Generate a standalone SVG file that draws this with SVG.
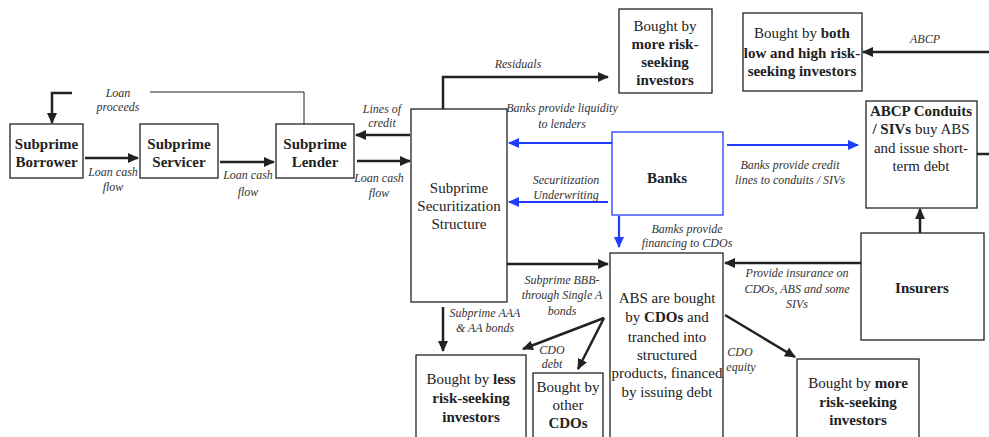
<svg xmlns="http://www.w3.org/2000/svg" width="989" height="437" viewBox="0 0 989 437">
<style>
.box{fill:#fff;stroke:#222;stroke-width:1.3}
.bbox{fill:#fff;stroke:#1f3cff;stroke-width:1.3}
.t{font-family:"Liberation Serif","Times New Roman",serif;font-size:15px;fill:#222;text-anchor:middle}
.b{font-weight:bold}
.l{font-family:"Liberation Serif","Times New Roman",serif;font-size:12px;font-style:italic;fill:#333;text-anchor:middle}
.k{fill:none;stroke:#222;stroke-width:2.5}
.thin{fill:none;stroke:#222;stroke-width:1}
.bl{fill:none;stroke:#1f3cff;stroke-width:2.2}
</style>
<defs>
<marker id="ak" markerUnits="userSpaceOnUse" markerWidth="11" markerHeight="10" refX="10" refY="5" orient="auto"><path d="M0,0 L11,5 L0,10 z" fill="#222"/></marker>
<marker id="ab" markerUnits="userSpaceOnUse" markerWidth="11" markerHeight="10" refX="10" refY="5" orient="auto"><path d="M0,0 L11,5 L0,10 z" fill="#1f3cff"/></marker>
</defs>
<rect width="989" height="437" fill="#fff"/>
<g id="connectors">
<path class="thin" d="M304,124 L304,92 L150,92"/>
<path class="k" d="M72,93 L52,93 L52,123" marker-end="url(#ak)"/>
<path class="k" d="M85,158 L138,158" marker-end="url(#ak)"/>
<path class="k" d="M220,162 L274,162" marker-end="url(#ak)"/>
<path class="k" d="M357,161 L410,161" marker-end="url(#ak)"/>
<path class="k" d="M410,135 L356,135" marker-end="url(#ak)"/>
<path class="k" d="M443,109 L443,77 L608,77" marker-end="url(#ak)"/>
<path class="bl" d="M612,143 L509,143" marker-end="url(#ab)"/>
<path class="bl" d="M608,202 L509,202" marker-end="url(#ab)"/>
<path class="bl" d="M727,145 L858,145" marker-end="url(#ab)"/>
<path class="bl" d="M619,216 L619,247" marker-end="url(#ab)"/>
<path class="k" d="M989,52 L863,52" marker-end="url(#ak)"/>
<path class="k" d="M977,154 L989,154"/>
<path class="k" d="M920,233 L920,209" marker-end="url(#ak)"/>
<path class="k" d="M861,263 L725,263" marker-end="url(#ak)"/>
<path class="k" d="M507,264 L608,264" marker-end="url(#ak)"/>
<path class="k" d="M443,307 L443,351" marker-end="url(#ak)"/>
<path class="k" d="M604,318 L523,349" marker-end="url(#ak)"/>
<path class="k" d="M604,318 L578,369" marker-end="url(#ak)"/>
<path class="k" d="M725,315 L795,357" marker-end="url(#ak)"/>
<text class="l" x="118" y="97">Loan</text>
<text class="l" x="118" y="111">proceeds</text>
<text class="l" x="382" y="113">Lines of</text>
<text class="l" x="382" y="127">credit</text>
<text class="l" x="113" y="176">Loan cash</text>
<text class="l" x="113" y="191">flow</text>
<text class="l" x="248" y="179">Loan cash</text>
<text class="l" x="248" y="196">flow</text>
<text class="l" x="379" y="182">Loan cash</text>
<text class="l" x="379" y="197">flow</text>
<text class="l" x="518" y="68">Residuals</text>
<text class="l" x="562" y="112">Banks provide liquidity</text>
<text class="l" x="562" y="128">to lenders</text>
<text class="l" x="566" y="184">Securitization</text>
<text class="l" x="566" y="199">Underwriting</text>
<text class="l" x="790" y="169">Banks provide credit</text>
<text class="l" x="790" y="184">lines to conduits / SIVs</text>
<text class="l" x="687" y="233">Bamks provide</text>
<text class="l" x="687" y="247">financing to CDOs</text>
<text class="l" x="925" y="43">ABCP</text>
<text class="l" x="797" y="277">Provide  insurance on</text>
<text class="l" x="797" y="293">CDOs, ABS and some</text>
<text class="l" x="797" y="308">SIVs</text>
<text class="l" x="562" y="284">Subprime BBB-</text>
<text class="l" x="562" y="299">through Single A</text>
<text class="l" x="562" y="315">bonds</text>
<text class="l" x="485" y="317">Subprime AAA</text>
<text class="l" x="485" y="332">&amp; AA bonds</text>
<text class="l" x="552" y="354">CDO</text>
<text class="l" x="552" y="368">debt</text>
<text class="l" x="740" y="356">CDO</text>
<text class="l" x="741" y="371">equity</text>
</g>
<g id="borrower">
<rect class="box" x="10" y="124" width="73" height="54"/>
<text class="t b" x="46.5" y="149">Subprime</text>
<text class="t b" x="46.5" y="167">Borrower</text>
</g>
<g id="servicer">
<rect class="box" x="140" y="124" width="78" height="54"/>
<text class="t b" x="179" y="149">Subprime</text>
<text class="t b" x="179" y="167">Servicer</text>
</g>
<g id="lender">
<rect class="box" x="276" y="124" width="78" height="54"/>
<text class="t b" x="315" y="149">Subprime</text>
<text class="t b" x="315" y="167">Lender</text>
</g>
<g id="securitization">
<rect class="box" x="411" y="109" width="96" height="193"/>
<text class="t" x="459" y="193">Subprime</text>
<text class="t" x="459" y="211">Securitization</text>
<text class="t" x="459" y="229">Structure</text>
</g>
<g id="residual-buyers">
<rect class="box" x="619" y="9" width="93" height="84"/>
<text class="t" x="665" y="31">Bought by</text>
<text class="t b" x="665" y="49">more risk-</text>
<text class="t b" x="665" y="67">seeking</text>
<text class="t b" x="665" y="85">investors</text>
</g>
<g id="abcp-buyers">
<rect class="box" x="743" y="13" width="119" height="78"/>
<text class="t" x="802" y="38">Bought by <tspan class="b">both</tspan></text>
<text class="t b" x="802" y="58">low and high risk-</text>
<text class="t b" x="802" y="76">seeking investors</text>
</g>
<g id="banks">
<rect class="bbox" x="612" y="132" width="111" height="83"/>
<text class="t b" x="667" y="183">Banks</text>
</g>
<g id="abcp-conduits">
<rect class="box" x="866" y="101" width="111" height="107"/>
<text class="t b" x="921" y="116">ABCP Conduits</text>
<text class="t" x="921" y="134"><tspan class="b">/ SIVs</tspan> buy ABS</text>
<text class="t" x="921" y="153">and issue short-</text>
<text class="t" x="921" y="171">term debt</text>
</g>
<g id="insurers">
<rect class="box" x="861" y="233" width="123" height="107"/>
<text class="t b" x="922" y="293">Insurers</text>
</g>
<g id="cdos">
<rect class="box" x="610" y="253" width="113" height="186"/>
<text class="t" x="667" y="303">ABS are bought</text>
<text class="t" x="667" y="322">by <tspan class="b">CDOs</tspan> and</text>
<text class="t" x="667" y="342">tranched into</text>
<text class="t" x="667" y="360">structured</text>
<text class="t" x="667" y="378">products, financed</text>
<text class="t" x="667" y="397">by issuing debt</text>
</g>
<g id="less-risk-buyers">
<rect class="box" x="416" y="355" width="110" height="84"/>
<text class="t" x="471" y="384">Bought by <tspan class="b">less</tspan></text>
<text class="t b" x="471" y="403">risk-seeking</text>
<text class="t b" x="471" y="422">investors</text>
</g>
<g id="other-cdos">
<rect class="box" x="533" y="373" width="70" height="66"/>
<text class="t" x="568" y="392">Bought by</text>
<text class="t" x="568" y="410">other</text>
<text class="t b" x="568" y="428">CDOs</text>
</g>
<g id="equity-buyers">
<rect class="box" x="797" y="359" width="122" height="80"/>
<text class="t" x="858" y="388">Bought by <tspan class="b">more</tspan></text>
<text class="t b" x="858" y="407">risk-seeking</text>
<text class="t b" x="858" y="425">investors</text>
</g>
</svg>
